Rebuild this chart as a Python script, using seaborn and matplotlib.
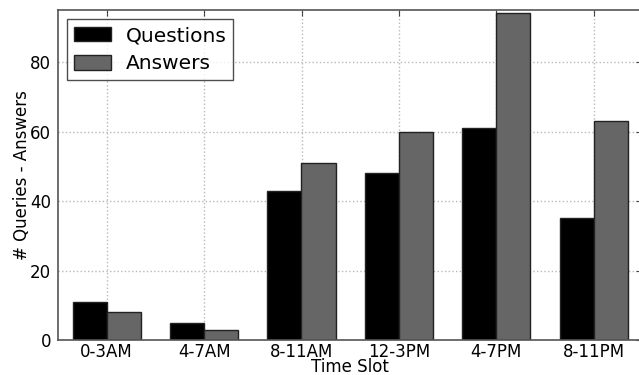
import matplotlib
matplotlib.use("Agg")
import matplotlib.pyplot as plt
import seaborn as sns
import pandas as pd

slots = ["0-3AM", "4-7AM", "8-11AM", "12-3PM", "4-7PM", "8-11PM"]
questions = [11, 5, 43, 48, 61, 35]
answers = [8, 3, 51, 60, 94, 63]
series_names = ["Questions", "Answers"]
y_ticks = [0, 20, 40, 60, 80]

df = pd.DataFrame({
    "slot": slots * 2,
    "count": questions + answers,
    "series": [series_names[0]] * len(slots) + [series_names[1]] * len(slots),
})

sns.set_style("white")
plt.rcParams["font.family"] = ["DejaVu Sans"]
plt.rcParams["text.color"] = "black"
plt.rcParams["axes.labelcolor"] = "black"
plt.rcParams["xtick.color"] = "black"
plt.rcParams["ytick.color"] = "black"

fig = plt.figure(figsize=(6.39, 3.75), dpi=100)
ax = fig.add_axes([58 / 639, 1 - 340 / 375, 584.4 / 639, 330 / 375])

sns.barplot(
    data=df, x="slot", y="count", hue="series", order=slots,
    hue_order=series_names, palette=["#000000", "#666666"],
    width=0.7, saturation=1, edgecolor="#222222", linewidth=1.0,
    errorbar=None, ax=ax,
)

ax.set_xlim(-0.5, len(slots) - 0.5)
ax.set_ylim(0, 95)
ax.set_yticks(y_ticks)
ax.grid(True, linestyle=":", color="#b8b8b8", linewidth=1.0)
ax.set_axisbelow(True)
ax.tick_params(axis="both", direction="in", length=4, labelsize=12,
               top=True, right=True, color="#444444")
ax.tick_params(axis="x", pad=2)
ax.tick_params(axis="y", pad=5)
for s in ax.spines.values():
    s.set_color("#555555")
    s.set_linewidth(1.2)

ax.set_xlabel("Time Slot", fontsize=12, labelpad=-2)
ax.set_ylabel("# Queries - Answers", fontsize=12, labelpad=-0.5)

leg = ax.legend(loc="upper left", fontsize=14.5, frameon=True, fancybox=False,
                edgecolor="#222222", borderaxespad=0.45, handlelength=1.85,
                handleheight=0.75, borderpad=0.35, labelspacing=0.45,
                handletextpad=0.7)
leg.get_frame().set_linewidth(1.0)

fig.savefig("out.png", dpi=100)
